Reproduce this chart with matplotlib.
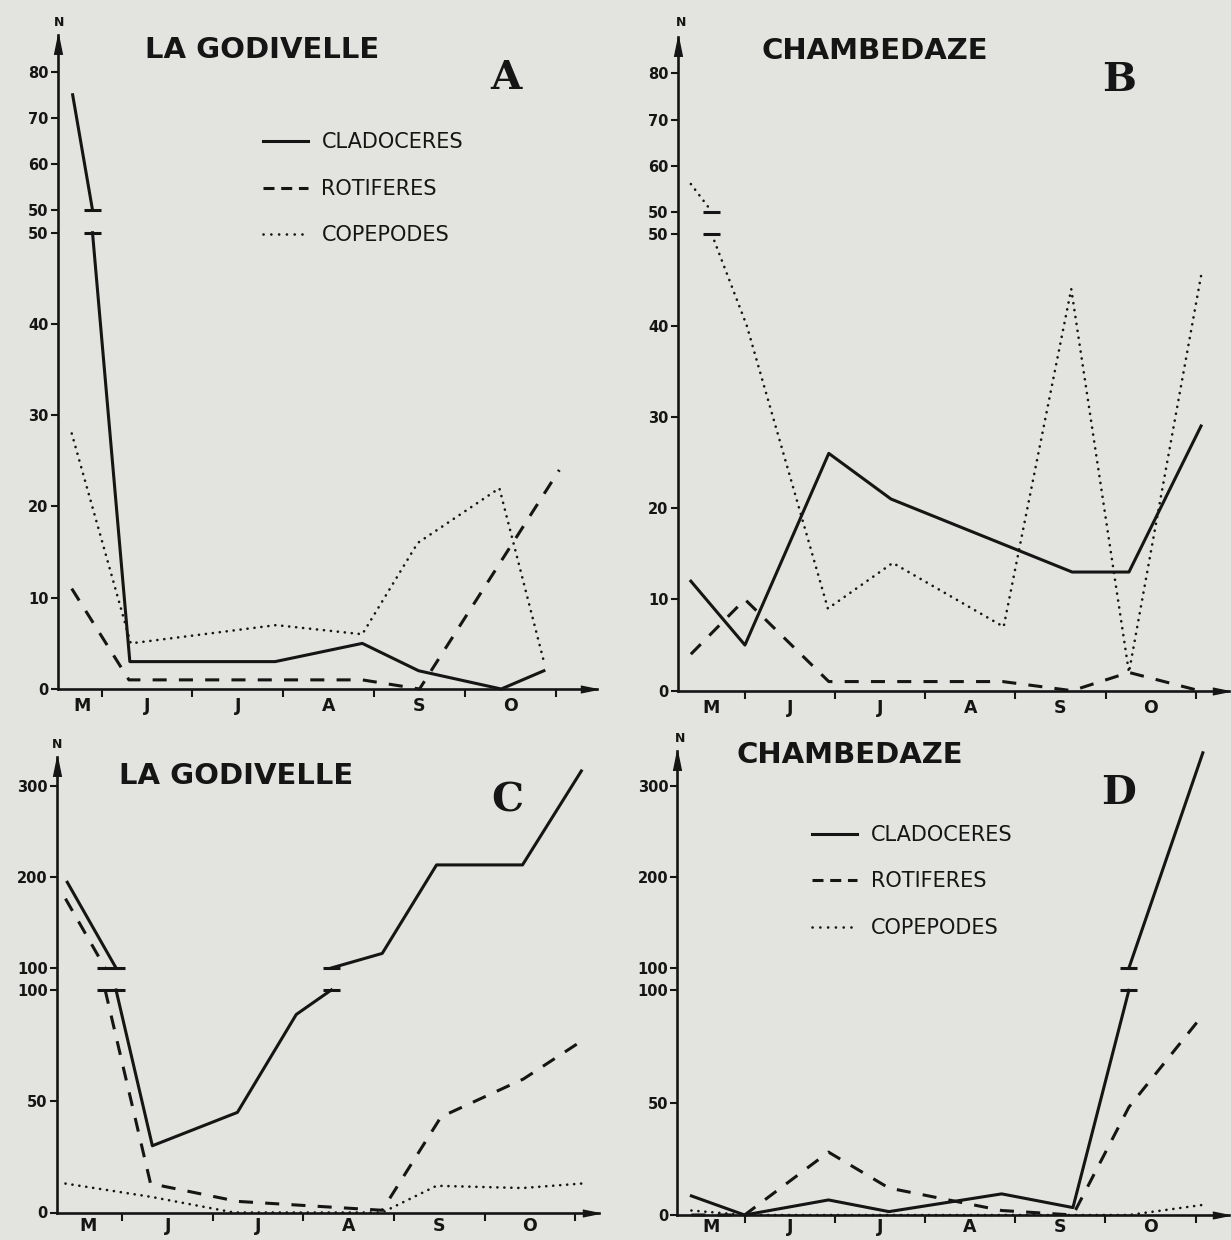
import numpy as np
import matplotlib
matplotlib.use("Agg")
import matplotlib.pyplot as plt
from matplotlib.lines import Line2D

W, H = 1231, 1240
PAPER = "#e3e4df"
INK = "#151515"

month_names = ["M", "J", "J", "A", "S", "O"]
series_names = ["CLADOCERES", "ROTIFERES", "COPEPODES"]

# x values are in months: 0-1 = May, 1-2 = June, ... 5-6 = October
# A - La Godivelle, 0-80
a_clad_x = [0.68, 1.31, 2.91, 3.87, 4.49, 5.40, 5.87]
a_clad = [75, 3, 3, 5, 2, 0, 2]
a_rot_x = [0.67, 1.30, 3.87, 4.50, 6.04]
a_rot = [11, 1, 1, 0, 24]
a_cop_x = [0.67, 1.32, 2.92, 3.87, 4.48, 5.38, 5.87]
a_cop = [28, 5, 7, 6, 16, 22, 3]

# B - Chambedaze, 0-80
b_clad_x = [0.40, 1.00, 1.93, 2.62, 4.63, 5.26, 6.06]
b_clad = [12, 5, 26, 21, 13, 13, 29]
b_rot_x = [0.40, 1.00, 1.93, 3.86, 4.63, 5.26, 6.04]
b_rot = [4, 10, 1, 1, 0, 2, 0]
b_cop_x = [0.40, 1.02, 1.92, 2.64, 3.87, 4.62, 5.26, 6.07]
b_cop = [56, 40, 9, 14, 7, 44, 2, 46]

# C - La Godivelle, 0-300
c_clad_x = [0.39, 1.33, 2.27, 2.92, 3.87, 4.47, 5.42, 6.07]
c_clad = [194, 30, 45, 89, 116, 213, 213, 316]
c_rot_x = [0.37, 1.31, 2.27, 3.87, 4.52, 5.43, 6.07]
c_rot = [176, 13, 5, 1, 43, 60, 77]
c_cop_x = [0.37, 1.32, 2.23, 3.87, 4.47, 5.42, 6.07]
c_cop = [13, 7, 0, 0, 12, 11, 13]

# D - Chambedaze, 0-300
d_x = [0.41, 1.00, 1.93, 2.60, 3.85, 4.64, 5.26, 6.08]
d_clad = [8.5, 0, 6.7, 1.5, 9.4, 3.3, 100, 336]
d_rot = [0, 0, 28, 12, 2, 0, 48, 89]
d_cop = [2, 0, 0, 0, 0, 0, 0, 4.5]

EPS = 1e-6


def px(x, y):
    return x / W, 1 - y / H


def break_scale(thr, gap, k):
    def fwd(v):
        v = np.asarray(v, dtype=float)
        return np.where(v <= thr, v, thr + gap + (v - thr) * k)

    def inv(t):
        t = np.asarray(t, dtype=float)
        return np.where(t <= thr, t, thr + (t - thr - gap) / k)

    return fwd, inv


def split_at_break(x, v, thr):
    xs, vs, cross = [x[0]], [v[0]], []
    for i in range(1, len(x)):
        x0, v0, x1, v1 = x[i - 1], v[i - 1], x[i], v[i]
        if (v0 <= thr) != (v1 <= thr):
            xc = x0 + (thr - v0) / (v1 - v0) * (x1 - x0)
            if v0 <= thr:
                first, second = thr, thr + EPS
            else:
                first, second = thr + EPS, thr
            xs += [xc, np.nan, xc]
            vs += [first, np.nan, second]
            cross.append(xc)
        xs.append(x1)
        vs.append(v1)
    return xs, vs, cross


STYLES = {
    "solid": dict(ls="-", lw=2.2),
    "dash": dict(ls=(0, (4.6, 4.0)), lw=2.2),
    "dot": dict(ls=(0, (0.05, 2.6)), lw=1.9, dash_capstyle="round"),
}

up_head = [(-0.45, -2.2), (0, 0), (0.45, -2.2)]
right_head = [(-2.2, -0.45), (0, 0), (-2.2, 0.45)]


def draw_panel(fig, box, xlim, zero_y, ppu, gap_px, k, thr, low_ticks, up_ticks,
               series, m_x, label_pad):
    x_left, x_right, y_top = box
    ax = fig.add_axes([x_left / W, 1 - zero_y / H,
                       (x_right - x_left) / W, (zero_y - y_top) / H])
    ax.set_facecolor("none")
    gap = gap_px / ppu
    fwd, inv = break_scale(thr, gap, k)
    ax.set_yscale("function", functions=(fwd, inv))
    ax.set_xlim(*xlim)
    ax.set_ylim(0, float(inv((zero_y - y_top) / ppu)))

    crossings = []
    for (x, v, style) in series:
        xs, vs, cross = split_at_break(x, v, thr)
        ax.plot(xs, vs, color=INK, clip_on=False, **STYLES[style])
        crossings += cross

    # break bars, merged where two lines cross close together
    crossings.sort()
    groups = []
    for xc in crossings:
        if groups and xc - groups[-1][-1] < 0.3:
            groups[-1].append(xc)
        else:
            groups.append([xc])
    half = 8.5 / 90.5
    for g in groups:
        for level in (thr, thr + EPS):
            ax.plot([min(g) - half, max(g) + half], [level, level],
                    color=INK, lw=2.2, solid_capstyle="butt", clip_on=False)

    for side in ("top", "right"):
        ax.spines[side].set_visible(False)
    for side in ("left", "bottom"):
        ax.spines[side].set_linewidth(1.9)
        ax.spines[side].set_color(INK)

    ticks = list(low_ticks) + [t + EPS if t == thr else t for t in up_ticks]
    labels = [str(t) for t in low_ticks] + [str(t) for t in up_ticks]
    ax.set_yticks(ticks, labels)
    ax.tick_params(axis="y", direction="out", length=5, width=1.5, pad=1.5,
                   colors=INK, labelsize=10.5)
    for t in ax.get_yticklabels():
        t.set_fontweight("bold")

    ax.set_xticks(range(1, 7), [""] * 6)
    ax.set_xticks(m_x, month_names, minor=True)
    ax.tick_params(axis="x", which="major", direction="out", length=6,
                   width=1.5, colors=INK)
    ax.tick_params(axis="x", which="minor", length=0, pad=label_pad,
                   labelsize=12.5, colors=INK)
    for t in ax.get_xticklabels(minor=True):
        t.set_fontweight("heavy")

    ax.plot(0, 1, transform=ax.transAxes, marker=up_head, ms=28, color=INK,
            clip_on=False)
    ax.plot(1, 0, transform=ax.transAxes, marker=right_head, ms=24, color=INK,
            clip_on=False)
    return ax


def add_legend(ax, x, y):
    handles = [
        Line2D([], [], color=INK, ls="-", lw=2.2),
        Line2D([], [], color=INK, ls=(0, (3.6, 2.2)), lw=2.2),
        Line2D([], [], color=INK, ls=(0, (0.05, 2.9)), lw=1.9,
               dash_capstyle="round"),
    ]
    ax.legend(handles, series_names, loc="upper left",
              bbox_to_anchor=px(x, y), bbox_transform=ax.figure.transFigure,
              frameon=False, borderpad=0, borderaxespad=0, handlelength=2.16,
              handletextpad=0.66, labelspacing=1.27, labelcolor=INK,
              prop=dict(family="DejaVu Sans", size=15))


fig = plt.figure(figsize=(W / 100, H / 100), dpi=100, facecolor=PAPER)

ax_a = draw_panel(fig, (57.7, 597, 35), (0.5154, 6.455), 689, 9.126, 22.7,
                  0.505, 50, [0, 10, 20, 30, 40, 50], [50, 60, 70, 80],
                  [(a_clad_x, a_clad, "solid"), (a_rot_x, a_rot, "dash"),
                   (a_cop_x, a_cop, "dot")],
                  [0.78, 1.5, 2.5, 3.5, 4.5, 5.5], 6)
ax_b = draw_panel(fig, (677.7, 1229, 37), (0.254, 6.37), 690.7, 9.128, 22.6,
                  0.505, 50, [0, 10, 20, 30, 40, 50], [50, 60, 70, 80],
                  [(b_clad_x, b_clad, "solid"), (b_rot_x, b_rot, "dash"),
                   (b_cop_x, b_cop, "dot")],
                  [0.62, 1.5, 2.5, 3.5, 4.5, 5.5], 6)
ax_c = draw_panel(fig, (56.6, 599, 757), (0.272, 6.265), 1212.5, 2.225, 22,
                  0.41, 100, [0, 50, 100], [100, 200, 300],
                  [(c_clad_x, c_clad, "solid"), (c_rot_x, c_rot, "dash"),
                   (c_cop_x, c_cop, "dot")],
                  [0.62, 1.5, 2.5, 3.5, 4.5, 5.5], 3)
ax_d = draw_panel(fig, (677.3, 1229, 751), (0.254, 6.37), 1215, 2.247, 22.2,
                  0.406, 100, [0, 50, 100], [100, 200, 300],
                  [(d_x, d_clad, "solid"), (d_x, d_rot, "dash"),
                   (d_x, d_cop, "dot")],
                  [0.63, 1.5, 2.5, 3.5, 4.5, 5.5], 2)

add_legend(ax_a, 262.7, 132.5)
add_legend(ax_d, 812, 825)

title_kw = dict(ha="center", va="center", fontsize=21, fontweight="bold",
                family="DejaVu Sans", color=INK)
fig.text(*px(262, 50), "LA GODIVELLE", **title_kw)
fig.text(*px(875, 51), "CHAMBEDAZE", **title_kw)
fig.text(*px(236, 776), "LA GODIVELLE", **title_kw)
fig.text(*px(850, 755), "CHAMBEDAZE", **title_kw)

letter_kw = dict(ha="center", va="center", fontsize=29, fontweight="heavy",
                 family="DejaVu Serif", color=INK)
fig.text(*px(506, 78), "A", **letter_kw)
fig.text(*px(1119, 80), "B", **letter_kw)
fig.text(*px(507, 801), "C", **letter_kw)
fig.text(*px(1119, 793), "D", **letter_kw)

n_kw = dict(ha="center", va="center", fontsize=9, fontweight="heavy",
            family="DejaVu Sans", color=INK)
fig.text(*px(59, 22), "N", **n_kw)
fig.text(*px(681, 23), "N", **n_kw)
fig.text(*px(57, 745), "N", **n_kw)
fig.text(*px(680, 738), "N", **n_kw)

fig.savefig("out.png", dpi=100, facecolor=PAPER)
